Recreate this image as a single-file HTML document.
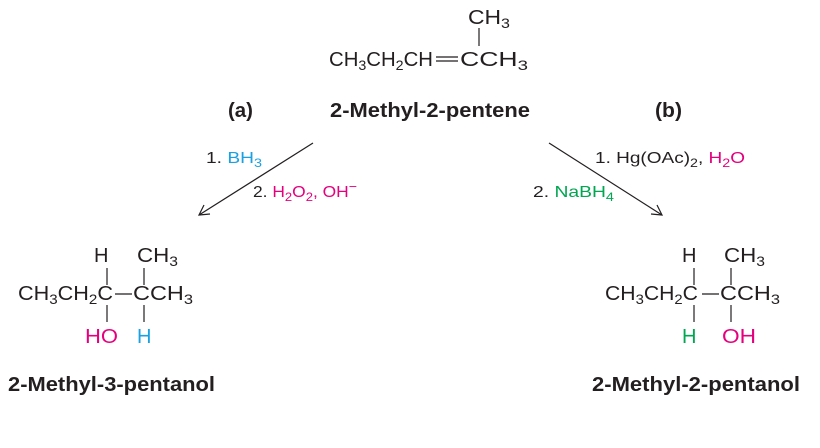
<!DOCTYPE html>
<html><head><meta charset="utf-8"><style>
html,body{margin:0;padding:0;background:#fff;}
svg{display:block;}
text{font-family:"Liberation Sans",sans-serif;fill:#231f20;}
.f{font-size:20px;}
.r{font-size:16px;}
.b{font-size:20px;font-weight:bold;}
.p{fill:#e6007e;}
.c{fill:#1ba1e2;}
.g{fill:#00a651;}
</style></head><body>
<svg width="820" height="448" viewBox="0 0 820 448" xmlns="http://www.w3.org/2000/svg">
<g stroke="#231f20" stroke-width="1.2" fill="none">
<line x1="479" y1="28" x2="479" y2="46"/>
<line x1="436" y1="57" x2="458" y2="57"/>
<line x1="436" y1="61" x2="458" y2="61"/>
<line x1="313" y1="143" x2="199" y2="215"/>
<polyline points="204,205 199,215 210,214"/>
<line x1="549" y1="143" x2="662" y2="215"/>
<polyline points="651,214 662,215 657,205"/>
<line x1="107" y1="268" x2="107" y2="285"/>
<line x1="144" y1="268" x2="144" y2="285"/>
<line x1="107" y1="305" x2="107" y2="322"/>
<line x1="144" y1="305" x2="144" y2="322"/>
<line x1="115" y1="294" x2="132" y2="294"/>
<line x1="694" y1="268" x2="694" y2="285"/>
<line x1="731" y1="268" x2="731" y2="285"/>
<line x1="694" y1="305" x2="694" y2="322"/>
<line x1="731" y1="305" x2="731" y2="322"/>
<line x1="702" y1="294" x2="719" y2="294"/>
</g>
<text class="f" x="468" y="24" textLength="42" lengthAdjust="spacingAndGlyphs">CH<tspan font-size="14" dy="4">3</tspan></text>
<text class="f" x="329" y="66" textLength="104" lengthAdjust="spacingAndGlyphs">CH<tspan font-size="14" dy="4">3</tspan><tspan dy="-4">CH</tspan><tspan font-size="14" dy="4">2</tspan><tspan dy="-4">CH</tspan></text>
<text class="f" x="460" y="66" textLength="68" lengthAdjust="spacingAndGlyphs">CCH<tspan font-size="14" dy="4">3</tspan></text>
<text class="b" x="228" y="117" textLength="25" lengthAdjust="spacingAndGlyphs">(a)</text>
<text class="b" x="330" y="117" textLength="200" lengthAdjust="spacingAndGlyphs">2-Methyl-2-pentene</text>
<text class="b" x="655" y="117" textLength="27" lengthAdjust="spacingAndGlyphs">(b)</text>
<text class="r" x="206" y="163" textLength="56" lengthAdjust="spacingAndGlyphs">1. <tspan class="c">BH</tspan><tspan class="c" font-size="12" dy="4">3</tspan></text>
<text class="r" x="253" y="197" textLength="104" lengthAdjust="spacingAndGlyphs">2. <tspan class="p">H</tspan><tspan class="p" font-size="12" dy="4">2</tspan><tspan class="p" dy="-4">O</tspan><tspan class="p" font-size="12" dy="4">2</tspan><tspan class="p" dy="-4">, OH</tspan><tspan class="p" dy="-6" font-size="13">−</tspan></text>
<text class="r" x="595" y="163" textLength="150" lengthAdjust="spacingAndGlyphs">1. Hg(OAc)<tspan font-size="12" dy="4">2</tspan><tspan dy="-4">, </tspan><tspan class="p">H</tspan><tspan class="p" font-size="12" dy="4">2</tspan><tspan class="p" dy="-4">O</tspan></text>
<text class="r" x="533" y="197" textLength="81" lengthAdjust="spacingAndGlyphs">2. <tspan class="g">NaBH</tspan><tspan class="g" font-size="12" dy="4">4</tspan></text>
<text class="f" x="94" y="262">H</text>
<text class="f" x="137" y="262" textLength="41" lengthAdjust="spacingAndGlyphs">CH<tspan font-size="14" dy="4">3</tspan></text>
<text class="f" x="18" y="300" textLength="95" lengthAdjust="spacingAndGlyphs">CH<tspan font-size="14" dy="4">3</tspan><tspan dy="-4">CH</tspan><tspan font-size="14" dy="4">2</tspan><tspan dy="-4">C</tspan></text>
<text class="f" x="133" y="300" textLength="60" lengthAdjust="spacingAndGlyphs">CCH<tspan font-size="14" dy="4">3</tspan></text>
<text class="f p" x="85" y="343" textLength="33" lengthAdjust="spacingAndGlyphs">HO</text>
<text class="f c" x="137" y="343">H</text>
<text class="f" x="682" y="262">H</text>
<text class="f" x="724" y="262" textLength="41" lengthAdjust="spacingAndGlyphs">CH<tspan font-size="14" dy="4">3</tspan></text>
<text class="f" x="605" y="300" textLength="93" lengthAdjust="spacingAndGlyphs">CH<tspan font-size="14" dy="4">3</tspan><tspan dy="-4">CH</tspan><tspan font-size="14" dy="4">2</tspan><tspan dy="-4">C</tspan></text>
<text class="f" x="720" y="300" textLength="60" lengthAdjust="spacingAndGlyphs">CCH<tspan font-size="14" dy="4">3</tspan></text>
<text class="f g" x="682" y="343">H</text>
<text class="f p" x="722" y="343" textLength="34" lengthAdjust="spacingAndGlyphs">OH</text>
<text class="b" x="8" y="391" textLength="207" lengthAdjust="spacingAndGlyphs">2-Methyl-3-pentanol</text>
<text class="b" x="592" y="391" textLength="208" lengthAdjust="spacingAndGlyphs">2-Methyl-2-pentanol</text>
</svg>
</body></html>
